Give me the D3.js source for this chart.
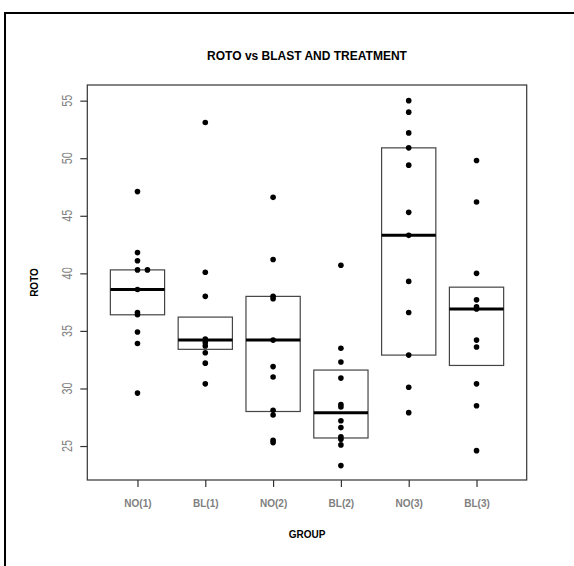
<!DOCTYPE html>
<html>
<head>
<meta charset="utf-8">
<script src="https://cdn.jsdelivr.net/npm/d3@7"></script>
<style>
  body { margin: 0; background: #fff; }
  text { font-family: "Liberation Sans", Arial, sans-serif; }
</style>
</head>
<body>
<script>
// groups and ROTO values
var groups = ["NO(1)", "BL(1)", "NO(2)", "BL(2)", "NO(3)", "BL(3)"];

var no1 = [47.1, 41.8, 41.1, 40.3, 40.3, 38.6, 36.6, 36.4, 34.9, 33.9, 29.6];
var bl1 = [53.1, 40.1, 38.0, 34.3, 34.0, 33.7, 33.1, 32.2, 30.4];
var no2 = [46.6, 41.2, 38.0, 37.8, 34.2, 31.9, 31.0, 28.1, 27.7, 25.5, 25.3];
var bl2 = [40.7, 33.5, 32.3, 30.9, 28.6, 28.4, 27.2, 26.6, 25.8, 25.6, 25.1, 23.3];
var no3 = [55.0, 54.0, 52.2, 50.9, 49.4, 45.3, 43.3, 39.3, 36.6, 32.9, 30.1, 27.9];
var bl3 = [49.8, 46.2, 40.0, 37.7, 37.1, 36.9, 34.2, 33.6, 30.4, 28.5, 24.6];
var values = [no1, bl1, no2, bl2, no3, bl3];

// box edges and centre line for each group
var boxTop    = [40.3, 36.2, 38.0, 31.6, 50.9, 38.8];
var boxBottom = [36.4, 33.4, 28.0, 25.7, 32.9, 32.0];
var centre    = [38.6, 34.2, 34.2, 27.9, 43.3, 36.9];

var yTicks = [25, 30, 35, 40, 45, 50, 55];

var W = 574, H = 566;

var svg = d3.select("body").append("svg")
    .attr("width", W)
    .attr("height", H);

// outer frame
svg.append("rect")
    .attr("x", 5).attr("y", 13)
    .attr("width", 700).attr("height", 700)
    .attr("fill", "none")
    .attr("stroke", "#000")
    .attr("stroke-width", 2);

var scalex = d3.scaleLinear()
    .domain([0.26, 6.74])
    .range([87.3, 526.7]);

var scaley = d3.scaleLinear()
    .domain([22.05, 56.36])
    .range([480, 85]);

var boxW = 0.8;

// boxes
var g = svg.selectAll(".grp")
  .data(groups)
  .enter()
  .append("g")
  .attr("class", "grp");

g.append("rect")
    .attr("x", (d, i) => scalex(i + 1 - boxW / 2))
    .attr("y", (d, i) => scaley(boxTop[i]))
    .attr("width", (d, i) => scalex(i + 1 + boxW / 2) - scalex(i + 1 - boxW / 2))
    .attr("height", (d, i) => scaley(boxBottom[i]) - scaley(boxTop[i]))
    .attr("fill", "none")
    .attr("stroke", "#444")
    .attr("stroke-width", 1.2);

g.append("line")
    .attr("x1", (d, i) => scalex(i + 1 - boxW / 2))
    .attr("x2", (d, i) => scalex(i + 1 + boxW / 2))
    .attr("y1", (d, i) => scaley(centre[i]))
    .attr("y2", (d, i) => scaley(centre[i]))
    .attr("stroke", "#000")
    .attr("stroke-width", 3);

// points; equal values are stacked sideways like stripchart(method="stack")
var pts = [];
values.forEach(function(arr, i) {
  var seen = {};
  arr.forEach(function(v) {
    var k = seen[v] || 0;
    seen[v] = k + 1;
    pts.push({g: i + 1, v: v, k: k});
  });
});

svg.selectAll(".dot")
  .data(pts)
  .enter()
  .append("circle")
  .attr("class", "dot")
  .attr("cx", d => scalex(d.g + d.k * 0.147))
  .attr("cy", d => scaley(d.v))
  .attr("r", 2.8)
  .attr("fill", "#000");

// plot frame
svg.append("rect")
    .attr("x", scalex.range()[0])
    .attr("y", scaley.range()[1])
    .attr("width", scalex.range()[1] - scalex.range()[0])
    .attr("height", scaley.range()[0] - scaley.range()[1])
    .attr("fill", "none")
    .attr("stroke", "#333")
    .attr("stroke-width", 1.2);

// x axis
var x_axis = d3.axisBottom(scalex)
    .tickValues(d3.range(1, groups.length + 1))
    .tickFormat(d => groups[d - 1])
    .tickSize(7)
    .tickSizeOuter(0)
    .tickPadding(13);

var xa = svg.append("g")
    .attr("class", "x-axis")
    .attr("transform", "translate(0, 480)")
    .call(x_axis);
xa.select(".domain").remove();
xa.selectAll("line").attr("stroke", "#333").attr("stroke-width", 1.2);
xa.selectAll("text")
    .attr("fill", "#808080")
    .attr("font-size", 10)
    .attr("font-weight", "bold")
    .attr("font-family", "Liberation Sans, Arial, sans-serif");

// y axis
var y_axis = d3.axisLeft(scaley)
    .tickValues(yTicks)
    .tickSize(7)
    .tickSizeOuter(0)
    .tickFormat("");

var ya = svg.append("g")
    .attr("class", "y-axis")
    .attr("transform", "translate(" + scalex.range()[0] + ", 0)")
    .call(y_axis);
ya.select(".domain").remove();
ya.selectAll("line").attr("stroke", "#333").attr("stroke-width", 1.2);

svg.selectAll(".ylab")
  .data(yTicks)
  .enter()
  .append("text")
  .attr("class", "ylab")
  .attr("transform", d => "translate(71.5," + scaley(d) + ") rotate(-90) scale(0.7,1)")
  .attr("text-anchor", "middle")
  .attr("font-size", 15.5)
  .attr("fill", "#808080")
  .text(d => d);

// titles
svg.append("text")
    .attr("x", (scalex.range()[0] + scalex.range()[1]) / 2)
    .attr("y", 59.5)
    .attr("text-anchor", "middle")
    .attr("font-size", 12)
    .attr("font-weight", "bold")
    .text("ROTO vs BLAST AND TREATMENT");

svg.append("text")
    .attr("x", (scalex.range()[0] + scalex.range()[1]) / 2)
    .attr("y", 538)
    .attr("text-anchor", "middle")
    .attr("font-size", 10)
    .attr("font-weight", "bold")
    .text("GROUP");

svg.append("text")
    .attr("transform", "translate(38.3," + (scaley.range()[0] + scaley.range()[1]) / 2 + ") rotate(-90)")
    .attr("text-anchor", "middle")
    .attr("font-size", 10)
    .attr("font-weight", "bold")
    .text("ROTO");
</script>
</body>
</html>
